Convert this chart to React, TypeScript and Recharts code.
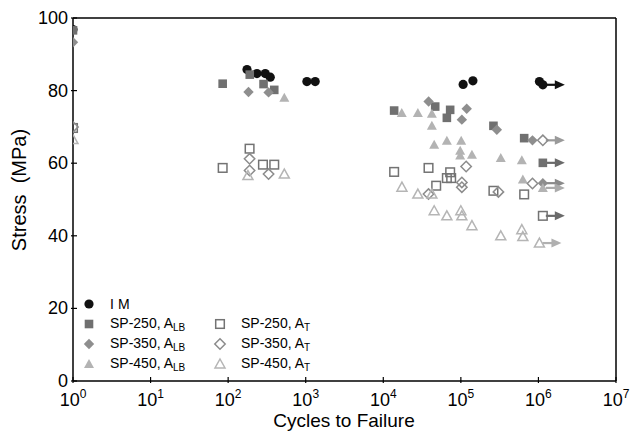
import React from 'react';
import { ScatterChart, Scatter, XAxis, YAxis, ReferenceLine } from 'recharts';

// cycles to failure (n) vs stress (s, MPa); runout = test stopped without failure
type Pt = { n: number; s: number; runout?: boolean };

const imPoints: Pt[] = [
  { n: 1, s: 96.8 }, { n: 175, s: 85.8 }, { n: 235, s: 84.7 }, { n: 301, s: 84.7 },
  { n: 349, s: 83.7 }, { n: 1036, s: 82.5 }, { n: 1325, s: 82.5 }, { n: 107000, s: 81.7 },
  { n: 143000, s: 82.7 }, { n: 1030000, s: 82.5 }, { n: 1140000, s: 81.6, runout: true },
];

const sp250Alb: Pt[] = [
  { n: 1, s: 96.6 }, { n: 85, s: 81.9 }, { n: 190, s: 84.4 }, { n: 286, s: 81.8 },
  { n: 393, s: 80.2 }, { n: 13800, s: 74.5 }, { n: 46700, s: 75.6 }, { n: 72800, s: 74.7 },
  { n: 66000, s: 72.5 }, { n: 263000, s: 70.3 }, { n: 655000, s: 66.9 },
  { n: 1140000, s: 60.1, runout: true },
];

const sp350Alb: Pt[] = [
  { n: 1, s: 93.3 }, { n: 183, s: 79.6 }, { n: 332, s: 79.5 }, { n: 38400, s: 77 },
  { n: 119000, s: 75 }, { n: 103000, s: 72 }, { n: 291000, s: 69.2 }, { n: 838000, s: 66.3 },
  { n: 1140000, s: 54.5, runout: true },
];

const sp450Alb: Pt[] = [
  { n: 530, s: 78 }, { n: 17300, s: 73.8 }, { n: 27900, s: 73.8 }, { n: 42300, s: 73.6 },
  { n: 42300, s: 70.3 }, { n: 45300, s: 65.1 }, { n: 66000, s: 66.2 }, { n: 101000, s: 66.2 },
  { n: 98000, s: 63.4 }, { n: 98000, s: 62.1 }, { n: 139000, s: 62.3 }, { n: 327000, s: 61.4 },
  { n: 611000, s: 60.8 }, { n: 630000, s: 55.5 }, { n: 1140000, s: 53.2, runout: true },
];

const sp250At: Pt[] = [
  { n: 1, s: 69.7 }, { n: 85, s: 58.7 }, { n: 189, s: 64 }, { n: 281, s: 59.6 },
  { n: 393, s: 59.6 }, { n: 13800, s: 57.6 }, { n: 38300, s: 58.7 }, { n: 72800, s: 57.5 },
  { n: 66000, s: 55.9 }, { n: 75000, s: 55.9 }, { n: 48100, s: 53.8 }, { n: 263000, s: 52.4 },
  { n: 655000, s: 51.4 }, { n: 1140000, s: 45.5, runout: true },
];

const sp350At: Pt[] = [
  { n: 1, s: 70 }, { n: 189, s: 61.2 }, { n: 189, s: 58 }, { n: 332, s: 57 },
  { n: 117000, s: 59.1 }, { n: 103000, s: 54.7 }, { n: 103000, s: 53.4 }, { n: 38300, s: 51.5 },
  { n: 305000, s: 52.1 }, { n: 838000, s: 54.4 }, { n: 1140000, s: 66.3, runout: true },
];

const sp450At: Pt[] = [
  { n: 1, s: 66.5 }, { n: 180, s: 56.6 }, { n: 530, s: 57 }, { n: 17400, s: 53.4 },
  { n: 27900, s: 51.5 }, { n: 42300, s: 51.5 }, { n: 45300, s: 46.9 }, { n: 66000, s: 45.5 },
  { n: 100000, s: 46.9 }, { n: 103000, s: 45.5 }, { n: 139000, s: 42.8 }, { n: 327000, s: 40 },
  { n: 611000, s: 41.7 }, { n: 630000, s: 39.8 }, { n: 1030000, s: 38, runout: true },
];

const xTicks = [1, 10, 100, 1000, 10000, 100000, 1000000, 10000000];
const yTicks = [0, 20, 40, 60, 80, 100];

const FONT = '"Liberation Sans", Arial, sans-serif';

type Kind = 'circle' | 'square' | 'diamond' | 'triangle';

const Marker = ({ kind, open, color, cx, cy }: { kind: Kind; open: boolean; color: string; cx: number; cy: number }) => {
  const paint = open
    ? { fill: 'none', stroke: color, strokeWidth: 1.5 }
    : { fill: color, stroke: 'none' };
  if (kind === 'circle') return <circle cx={cx} cy={cy} r={4.6} {...paint} />;
  if (kind === 'square') return <rect x={cx - 4.3} y={cy - 4.3} width={8.6} height={8.6} {...paint} />;
  if (kind === 'diamond')
    return <polygon points={`${cx},${cy - 5.2} ${cx + 5.2},${cy} ${cx},${cy + 5.2} ${cx - 5.2},${cy}`} {...paint} />;
  return <polygon points={`${cx},${cy - 5} ${cx + 5},${cy + 4} ${cx - 5},${cy + 4}`} {...paint} />;
};

const makeShape = (kind: Kind, open: boolean, color: string, arrow: string) => (props: any) => {
  const { cx, cy, payload } = props;
  if (cx == null || cy == null) return <g />;
  return (
    <g>
      {payload?.runout && (
        <g>
          <line x1={cx + 3} x2={cx + 15} y1={cy} y2={cy} stroke={arrow} strokeWidth={2.2} />
          <polygon points={`${cx + 12},${cy - 4.5} ${cx + 22},${cy} ${cx + 12},${cy + 4.5}`} fill={arrow} />
        </g>
      )}
      <Marker kind={kind} open={open} color={color} cx={cx} cy={cy} />
    </g>
  );
};

const series = [
  { name: 'IM', data: imPoints, kind: 'circle' as Kind, open: false, color: '#111111', arrow: '#111111' },
  { name: 'SP-250, A', sub: 'LB', data: sp250Alb, kind: 'square' as Kind, open: false, color: '#707070', arrow: '#6a6a6a' },
  { name: 'SP-350, A', sub: 'LB', data: sp350Alb, kind: 'diamond' as Kind, open: false, color: '#8e8e8e', arrow: '#8a8a8a' },
  { name: 'SP-450, A', sub: 'LB', data: sp450Alb, kind: 'triangle' as Kind, open: false, color: '#b3b3b3', arrow: '#ababab' },
  { name: 'SP-250, A', sub: 'T', data: sp250At, kind: 'square' as Kind, open: true, color: '#737373', arrow: '#6a6a6a' },
  { name: 'SP-350, A', sub: 'T', data: sp350At, kind: 'diamond' as Kind, open: true, color: '#8c8c8c', arrow: '#9a9a9a' },
  { name: 'SP-450, A', sub: 'T', data: sp450At, kind: 'triangle' as Kind, open: true, color: '#b5b5b5', arrow: '#b0b0b0' },
];

// legend slots: [column, row]
const legendSlots = [[0, 0], [0, 1], [0, 2], [0, 3], [1, 1], [1, 2], [1, 3]];

const XTick = ({ x, y, payload }: any) => {
  const exp = Math.round(Math.log10(payload.value));
  return (
    <g>
      <line x1={x} x2={x} y1={y} y2={y - 6} stroke="#000" strokeWidth={1.2} />
      <text x={x} y={y + 23} textAnchor="middle" fontSize={18} fontFamily={FONT} fill="#000">
        10<tspan fontSize={12} dy={-8}>{exp}</tspan>
      </text>
    </g>
  );
};

const YTick = ({ x, y, payload }: any) => (
  <g>
    <line x1={x} x2={x + 6} y1={y} y2={y} stroke="#000" strokeWidth={1.2} />
    <text x={x - 3} y={y + 6} textAnchor="end" fontSize={18} fontFamily={FONT} fill="#000">
      {payload.value}
    </text>
  </g>
);

// legend sits inside the plot, lower left
const LegendBox = () => (
  <div style={{ position: 'absolute', left: 80, top: 295, width: 260, height: 80, fontFamily: FONT, fontSize: 14, color: '#000' }}>
    {series.map((s, i) => {
      const [col, row] = legendSlots[i];
      const mx = col === 0 ? 9 : 140;
      const my = 9 + row * 20;
      return (
        <div key={i} style={{ position: 'absolute', left: mx - 8, top: my - 9, height: 18, display: 'flex', alignItems: 'center', whiteSpace: 'nowrap' }}>
          <svg width={16} height={16} style={{ marginRight: 13 }}>
            <Marker kind={s.kind} open={s.open} color={s.color} cx={8} cy={8} />
          </svg>
          <span style={{ letterSpacing: s.name === 'IM' ? 4 : 0 }}>
            {s.name}
            {s.sub && <sub style={{ fontSize: 10, verticalAlign: -3 }}>{s.sub}</sub>}
          </span>
        </div>
      );
    })}
  </div>
);

export default function App() {
  return (
    <div style={{ position: 'absolute', left: 0, top: 0, width: 630, height: 431, background: '#fff' }}>
      <ScatterChart width={630} height={431} margin={{ top: 18, right: 14, left: 0, bottom: 0 }}>
        <XAxis
          dataKey="n"
          type="number"
          scale="log"
          domain={[1, 10000000]}
          ticks={xTicks}
          interval={0}
          allowDataOverflow
          height={50}
          tickSize={0}
          tickLine={false}
          tick={<XTick />}
          axisLine={{ stroke: '#000', strokeWidth: 1.5 }}
          label={{
            content: () => (
              <text x={344} y={426.5} textAnchor="middle" fontSize={19} fontFamily={FONT} fill="#000">
                Cycles to Failure
              </text>
            ),
          }}
        />
        <YAxis
          dataKey="s"
          type="number"
          domain={[0, 100]}
          ticks={yTicks}
          interval={0}
          width={73}
          tickSize={0}
          tickLine={false}
          tick={<YTick />}
          axisLine={{ stroke: '#000', strokeWidth: 1.5 }}
          label={{
            content: () => (
              <text x={26} y={190} transform="rotate(-90 26 190)" textAnchor="middle" fontSize={20} fontFamily={FONT} fill="#000" style={{ whiteSpace: 'pre' }}>
                Stress  (MPa)
              </text>
            ),
          }}
        />
        <ReferenceLine y={100} stroke="#000" strokeWidth={1.5} />
        <ReferenceLine x={10000000} stroke="#000" strokeWidth={1.5} />
        {series.map((s, i) => (
          <Scatter
            key={i}
            name={s.name + (s.sub ?? '')}
            data={s.data}
            isAnimationActive={false}
            shape={makeShape(s.kind, s.open, s.color, s.arrow)}
          />
        ))}
      </ScatterChart>
      <LegendBox />
    </div>
  );
}
